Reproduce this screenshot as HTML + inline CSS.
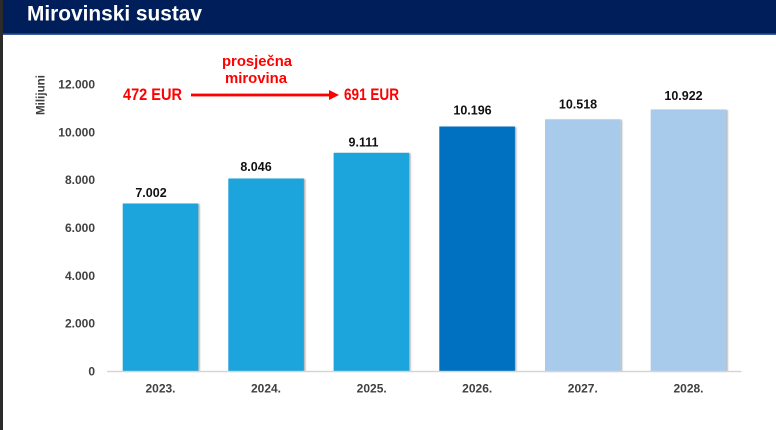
<!DOCTYPE html>
<html>
<head>
<meta charset="utf-8">
<style>
html,body{margin:0;padding:0;background:#fff;}
body{width:776px;height:430px;overflow:hidden;}
svg{display:block;}
text{font-family:"Liberation Sans",sans-serif;font-weight:bold;}
</style>
</head>
<body>
<svg width="776" height="430" viewBox="0 0 776 430" xmlns="http://www.w3.org/2000/svg">
  <defs>
    <filter id="sh" x="-10%" y="-10%" width="130%" height="130%">
      <feDropShadow dx="1.5" dy="0.5" stdDeviation="0.8" flood-color="#000" flood-opacity="0.3"/>
    </filter>
  </defs>
  <rect x="0" y="0" width="776" height="430" fill="#fff"/>
  <!-- header -->
  <rect x="0" y="0" width="776" height="34" fill="#001e5a"/>
  <rect x="0" y="33.5" width="776" height="1.5" fill="#3a5ea0"/>
  <!-- left border -->
  <rect x="0" y="0" width="3" height="430" fill="#2b2b2b"/>
  <text x="27" y="20.5" font-size="21" fill="#fff" textLength="175" lengthAdjust="spacingAndGlyphs">Mirovinski sustav</text>

  <!-- y axis title -->
  <text transform="translate(44.5,115) rotate(-90)" font-size="12" fill="#404040" textLength="40" lengthAdjust="spacingAndGlyphs">Milijuni</text>

  <!-- y tick labels -->
  <g font-size="12" fill="#404040" text-anchor="end">
    <text x="95" y="88.5">12.000</text>
    <text x="95" y="136.3">10.000</text>
    <text x="95" y="184">8.000</text>
    <text x="95" y="232">6.000</text>
    <text x="95" y="279.8">4.000</text>
    <text x="95" y="327.6">2.000</text>
    <text x="95" y="375.5">0</text>
  </g>

  <!-- bars -->
  <g filter="url(#sh)">
    <rect x="122.7" y="203.5" width="75.6" height="167.5" fill="#1ea4dd"/>
    <rect x="228.3" y="178.5" width="75.6" height="192.5" fill="#1ea4dd"/>
    <rect x="333.6" y="152.8" width="75.6" height="218.2" fill="#1ea4dd"/>
    <rect x="439.3" y="126.5" width="75.6" height="244.5" fill="#0070c0"/>
    <rect x="545" y="119.3" width="75.6" height="251.7" fill="#a8cbec"/>
    <rect x="650.7" y="109.5" width="75.6" height="261.5" fill="#a8cbec"/>
  </g>
  <!-- axis line -->
  <rect x="107" y="370.8" width="634.5" height="1.4" fill="#d4d4d4"/>

  <!-- value labels -->
  <g font-size="12.5" fill="#111" text-anchor="middle">
    <text x="151" y="197">7.002</text>
    <text x="256" y="171">8.046</text>
    <text x="363.5" y="146.5">9.111</text>
    <text x="472.5" y="114.5">10.196</text>
    <text x="578" y="108.5">10.518</text>
    <text x="683.5" y="100">10.922</text>
  </g>

  <!-- x labels -->
  <g font-size="12" fill="#404040" text-anchor="middle">
    <text x="160.5" y="392.7">2023.</text>
    <text x="266" y="392.7">2024.</text>
    <text x="371.7" y="392.7">2025.</text>
    <text x="477.2" y="392.7">2026.</text>
    <text x="582.8" y="392.7">2027.</text>
    <text x="688.5" y="392.7">2028.</text>
  </g>

  <!-- annotation -->
  <g fill="#ff0000">
    <text x="123" y="100" font-size="16.5" textLength="59" lengthAdjust="spacingAndGlyphs">472 EUR</text>
    <text x="344" y="100" font-size="16.5" textLength="55" lengthAdjust="spacingAndGlyphs">691 EUR</text>
    <text x="257" y="66" font-size="15" text-anchor="middle" textLength="70" lengthAdjust="spacingAndGlyphs">prosječna</text>
    <text x="256" y="83" font-size="15" text-anchor="middle" textLength="62" lengthAdjust="spacingAndGlyphs">mirovina</text>
    <rect x="191" y="93.6" width="141" height="2.8" />
    <polygon points="329,90 339,95 329,100"/>
  </g>
</svg>
</body>
</html>
